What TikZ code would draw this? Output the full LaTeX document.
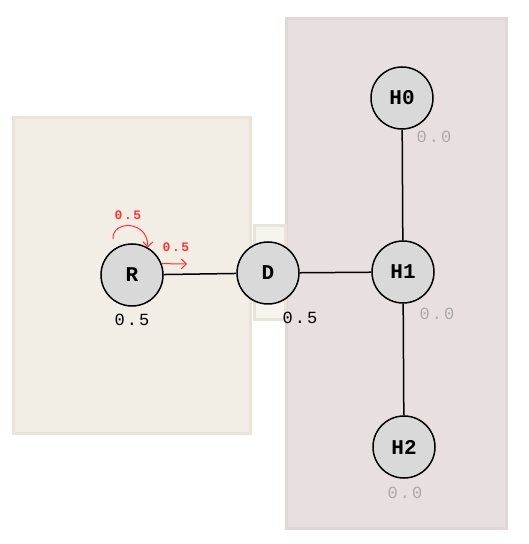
\documentclass[tikz,border=0pt]{standalone}
\usepackage{fontspec}
\usetikzlibrary{positioning, arrows.meta}
\newfontfamily\monofont{Liberation Mono}
\newfontfamily\spacedmono[LetterSpace=12]{Liberation Mono}
\definecolor{boxL}{HTML}{F2EDE5}
\definecolor{boxLline}{HTML}{EAE3D8}
\definecolor{boxR}{HTML}{E8E0E0}
\definecolor{boxRline}{HTML}{E1D7D7}
\definecolor{nodefill}{HTML}{D9D9D9}
\definecolor{probred}{HTML}{FF3333}
\definecolor{valgray}{HTML}{AAAAAA}

\tikzset{
  state/.style = {circle, draw, line width=1.5pt, fill=nodefill, minimum size=62pt, inner sep=0pt,
                  font=\monofont\bfseries\fontsize{21}{24}\selectfont},
  val/.style = {font=\spacedmono\fontsize{17}{20}\selectfont},
  prob/.style = {text=probred, font=\spacedmono\bfseries\fontsize{13}{15}\selectfont},
  probarrow/.style = {probred, line width=1pt, -{Straight Barb[length=5pt, width=10pt]}},
}

\begin{document}
\begin{tikzpicture}[x=1pt, y=1pt]
\useasboundingbox (0, 0) rectangle (528, 544);
% clusters
\draw[boxLline, fill=boxL, line width=3pt] (13, 110) rectangle (250, 426);
\draw[boxRline, fill=boxR, line width=3pt] (286, 15) rectangle (506, 525);
\draw[boxLline, fill=boxL!60!white, line width=3pt] (254, 224) rectangle (285, 318);

\node[state] (R) at (132, 269) {R};
\node[state] (D) at (268, 271) {D};
\node[state] (H0) at (402, 446) {H0};
\node[state] (H1) at (403, 272) {H1};
\node[state] (H2) at (404, 97) {H2};

\draw[line width=1.5pt] (R) -- (D);
\draw[line width=1.5pt] (D) -- (H1);
\draw[line width=1.5pt] (H1) -- (H0);
\draw[line width=1.5pt] (H1) -- (H2);

\node[val] (Rval) at (132, 224) {0.5};
\node[val] (Dval) at (300, 226) {0.5};
\node[val, text=valgray] (H0val) at (434, 407) {0.0};
\node[val, text=valgray] (H1val) at (437, 230) {0.0};
\node[val, text=valgray] (H2val) at (405, 51) {0.0};

% red transitions
\coordinate (loopstart) at (113, 305);
\coordinate (stepend) at (187, 280);
\draw[probarrow] (loopstart) .. controls (112, 324) and (148, 324) .. (R.60);
\node[prob] (Rloop) at (128, 329) {0.5};
\draw[probarrow] (R.21) -- (stepend);
\node[prob] (Rstep) at (176, 297) {0.5};

\end{tikzpicture}
\end{document}
